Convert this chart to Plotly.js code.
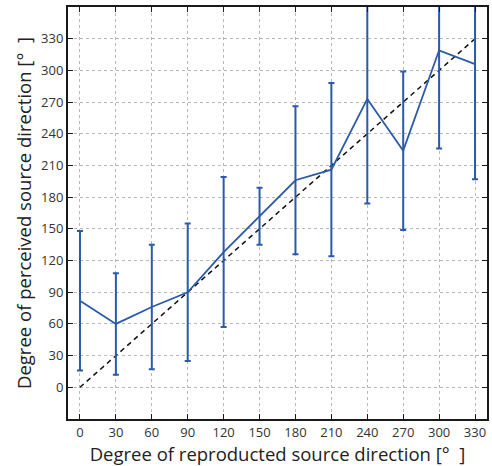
<!DOCTYPE html>
<html>
<head>
<meta charset="utf-8">
<script src="https://cdn.plot.ly/plotly-3.0.1.min.js"></script>
<style>html,body{margin:0;padding:0;background:#fff;}#chart{width:492px;height:466px;}</style>
</head>
<body>
<div id="chart"></div>
<script>
const reproduced = [0, 30, 60, 90, 120, 150, 180, 210, 240, 270, 300, 330];
const perceivedMean = [82, 60, 76, 90, 128, 162, 196, 206, 273, 224, 319, 306];
const perceivedErr = [66, 48, 59, 65, 71, 27, 70, 82, 99, 75, 93, 109];
const idealLine = [0, 330];
const tickVals = [0, 30, 60, 90, 120, 150, 180, 210, 240, 270, 300, 330];

const fontFam = '"Open Sans", "DejaVu Sans", sans-serif';
const traces = [
  {
    x: idealLine, y: idealLine, mode: 'lines', type: 'scatter',
    line: {color: '#111', width: 1.5, dash: '5px,4px'}, hoverinfo: 'skip'
  },
  {
    x: reproduced, y: perceivedMean, mode: 'lines', type: 'scatter',
    line: {color: '#2b5ba8', width: 1.8},
    error_y: {type: 'data', array: perceivedErr, visible: true, color: '#2b5ba8', thickness: 2, width: 3}
  }
];
const axisCommon = {
  showline: true, linecolor: '#1a1a1a', linewidth: 2, mirror: 'ticks',
  ticks: 'inside', ticklen: 5, tickwidth: 1, tickcolor: '#1a1a1a',
  showgrid: true, gridcolor: '#b8b8b8', griddash: 'dot', gridwidth: 1,
  zeroline: false, tickvals: tickVals,
  tickfont: {family: fontFam, size: 13, color: '#333'}
};
const layout = {
  width: 492, height: 466,
  margin: {l: 68, r: 5, t: 7, b: 47},
  showlegend: false,
  paper_bgcolor: '#fff', plot_bgcolor: '#fff',
  xaxis: Object.assign({}, axisCommon, {
    range: [-10, 340],
    title: {text: 'Degree of reproducted source direction [°  ]', font: {family: fontFam, size: 18.5, color: '#222'}, standoff: 3}
  }),
  yaxis: Object.assign({}, axisCommon, {
    range: [-30, 360],
    title: {text: 'Degree of perceived source direction [°  ]', font: {family: fontFam, size: 18.5, color: '#222'}, standoff: 5}
  })
};
Plotly.newPlot('chart', traces, layout, {displayModeBar: false, staticPlot: true});
</script>
</body>
</html>
